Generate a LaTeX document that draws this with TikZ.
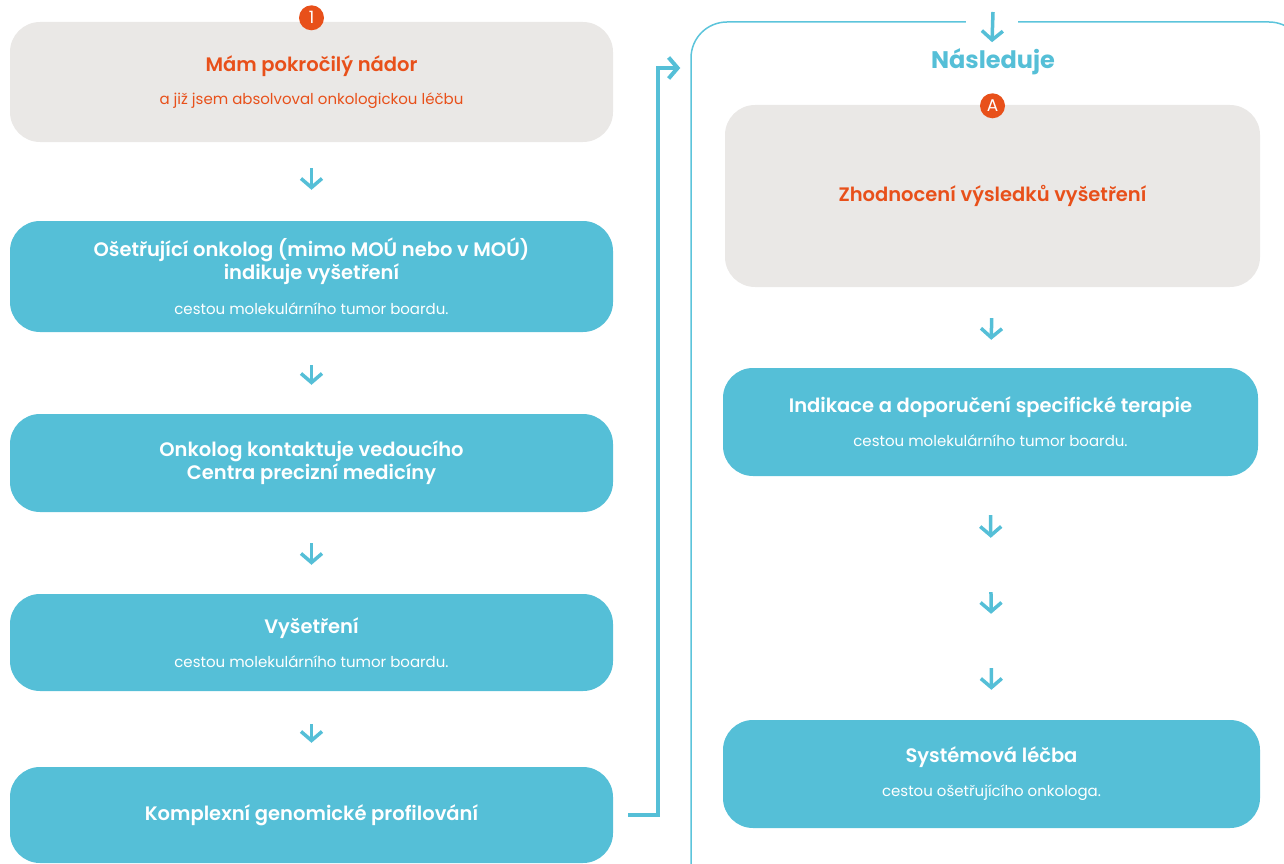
\documentclass[tikz,border=0pt]{standalone}
\usepackage{fontspec}
\setmainfont{Poppins}[BoldFont={* SemiBold}]
\newfontfamily\poppinsbold{Poppins}[UprightFont={* Bold}]
\usetikzlibrary{arrows.meta,positioning}

\definecolor{mouteal}{HTML}{55BFD7}
\definecolor{mouline}{HTML}{5CC4DB}
\definecolor{mougray}{HTML}{EAE8E6}
\definecolor{mouorange}{HTML}{E8501A}

\newcommand{\headfont}{\fontsize{19.5}{23}\selectfont\bfseries}
\newcommand{\subline}[1]{{\fontsize{15}{16}\mdseries\selectfont #1}}

\tikzset{
  card/.style={rounded corners=30pt, align=center, inner sep=0pt, font=\headfont},
  tealcard/.style={card, fill=mouteal, text=white, minimum width=603pt},
  graycard/.style={card, fill=mougray, text=mouorange, minimum width=603pt},
  badge/.style={circle, fill=mouorange, text=white, minimum size=25pt, inner sep=0pt,
    font=\fontsize{17}{17}\selectfont},
  flow/.style={draw=mouteal, line width=3.5pt, -{Straight Barb[length=9pt,width=21pt]}},
}

\begin{document}
\begin{tikzpicture}[x=1pt,y=-1pt]
\useasboundingbox (0,0) rectangle (1284,864);
\clip (0,0) rectangle (1284,864);

% left column
\node[graycard, minimum height=120pt] (b1) at (311.5,82)
  {Mám pokročilý nádor\\[10pt]\subline{a již jsem absolvoval onkologickou léčbu}};
\node[badge] (n1) at ([yshift=4pt]b1.north) {1};
\node[tealcard, minimum height=111pt] (b2) at (311.5,276.5)
  {Ošetřující onkolog (mimo MOÚ nebo v MOÚ)\\indikuje vyšetření\\[12pt]\subline{cestou molekulárního tumor boardu.}};
\node[tealcard, minimum height=98pt] (b3) at (311.5,463)
  {Onkolog kontaktuje vedoucího\\Centra precizní medicíny};
\node[tealcard, minimum height=97pt] (b4) at (311.5,642.5)
  {Vyšetření\\[11pt]\subline{cestou molekulárního tumor boardu.}};
\node[tealcard, minimum height=96pt] (b5) at (311.5,815)
  {Komplexní genomické profilování};

\foreach \a/\b/\s/\e in {b1/b2/26/31, b2/b3/33/29, b3/b4/31/29, b4/b5/33/24}
  \draw[flow, shorten <=\s pt, shorten >=\e pt] (\a.south) -- (\b.north);

% right column
\node[draw=mouline, line width=1.5pt, rounded corners=36pt, minimum width=614pt,
  minimum height=878pt, inner sep=0pt] (follow) at (998,461) {};
\node[fill=white, minimum width=52pt, minimum height=14pt, inner sep=0pt] (gap) at (992,22) {};
\coordinate (top) at (993,12);
\node[text=mouteal, font=\fontsize{24}{24}\poppinsbold] (head) at (993,62) {Následuje};
\draw[flow] (top) -- ([yshift=-13pt]gap.south);

\node[graycard, minimum width=535pt, minimum height=182pt] (r1) at (992.5,196)
  {Zhodnocení výsledků vyšetření};
\node[badge] (na) at ([yshift=-1pt]r1.north) {A};
\node[tealcard, minimum width=535pt, minimum height=108pt] (r2) at (990.5,422)
  {Indikace a doporučení specifické terapie\\[11pt]\subline{cestou molekulárního tumor boardu.}};
\node[tealcard, minimum width=537pt, minimum height=108pt] (r3) at (991.5,774)
  {Systémová léčba\\[11pt]\subline{cestou ošetřujícího onkologa.}};

\draw[flow, shorten <=31pt, shorten >=28pt] (r1.south) -- (r2.north);
\foreach \s/\e in {39/182, 116/106, 192/30}
  \draw[flow, shorten <=\s pt, shorten >=\e pt] (r2.south) -- (r3.north);

% link to the next phase
\coordinate (turn) at (658,68);
\draw[flow, line width=4pt] ([xshift=15pt]b5.east) -| (turn) -- ([xshift=-10pt]follow.west |- turn);
\end{tikzpicture}
\end{document}
